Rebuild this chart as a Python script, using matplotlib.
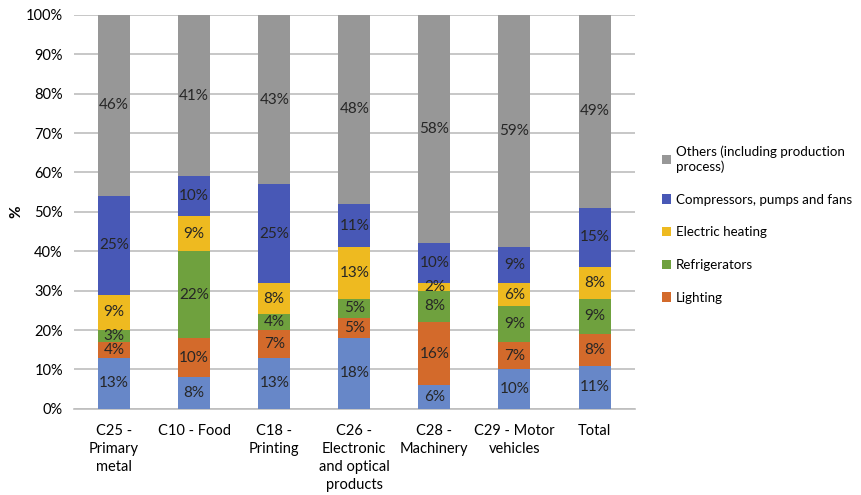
import numpy as np
import matplotlib
matplotlib.use('Agg')
import matplotlib.pyplot as plt
from matplotlib.patches import Patch

plt.rcParams['font.family'] = ['Lato', 'DejaVu Sans']

# categories and shares (%), stacked bottom to top
categories = ['C25 -\nPrimary\nmetal', 'C10 - Food', 'C18 -\nPrinting',
              'C26 -\nElectronic\nand optical\nproducts', 'C28 -\nMachinery',
              'C29 - Motor\nvehicles', 'Total']
motors = [13, 8, 13, 18, 6, 10, 11]
lighting = [4, 10, 7, 5, 16, 7, 8]
refrigerators = [3, 22, 4, 5, 8, 9, 9]
heating = [9, 9, 8, 13, 2, 6, 8]
compressors = [25, 10, 25, 11, 10, 9, 15]
others = [46, 41, 43, 48, 58, 59, 49]

series = [motors, lighting, refrigerators, heating, compressors, others]
names = ['', 'Lighting', 'Refrigerators', 'Electric heating',
         'Compressors, pumps and fans', 'Others (including production\nprocess)']
colors = ['#6787C8', '#D36A2B', '#6FA13E', '#EEBA20', '#4858B6', '#979797']

fig = plt.figure(figsize=(8.61, 4.95), dpi=100)
ax = fig.add_axes([0.086, 0.174, 0.651, 0.796])

x = np.arange(len(categories))
bottom = np.zeros(len(categories))
for vals, col in zip(series, colors):
    vals = np.array(vals)
    ax.bar(x, vals, 0.4, bottom=bottom, color=col, zorder=3)
    for xi, b, v in zip(x, bottom, vals):
        ax.text(xi, b + v / 2, f'{v}%', ha='center', va='center',
                fontsize=11, color='#262626', zorder=4)
    bottom += vals

ax.set_xlim(-0.5, len(categories) - 0.5)
ax.set_ylim(0, 100)
ax.set_yticks(np.arange(0, 101, 10))
ax.set_yticklabels([f'{v}%' for v in range(0, 101, 10)], fontsize=10.5)
ax.set_xticks(x)
ax.set_xticklabels(categories, fontsize=10.5, va='top', linespacing=1.35)
ax.tick_params(axis='x', length=0, pad=11)
ax.tick_params(axis='y', length=0, pad=8)
ax.yaxis.grid(True, color='#BEBEBE', linewidth=1.2, zorder=0)
for s in ['top', 'right', 'left']:
    ax.spines[s].set_visible(False)
ax.spines['bottom'].set_color('#BEBEBE')
ax.spines['bottom'].set_linewidth(1.2)
ax.set_ylabel('%', fontsize=11, fontweight='bold', labelpad=2)

handles = [Patch(facecolor=colors[i], label=names[i]) for i in range(5, 0, -1)]
fig.legend(handles=handles, loc='upper left', bbox_to_anchor=(0.755, 0.73),
           frameon=False, fontsize=9.6, handlelength=0.7, handleheight=0.7,
           handletextpad=0.35, labelspacing=1.55)

fig.savefig('out.png', dpi=100)
